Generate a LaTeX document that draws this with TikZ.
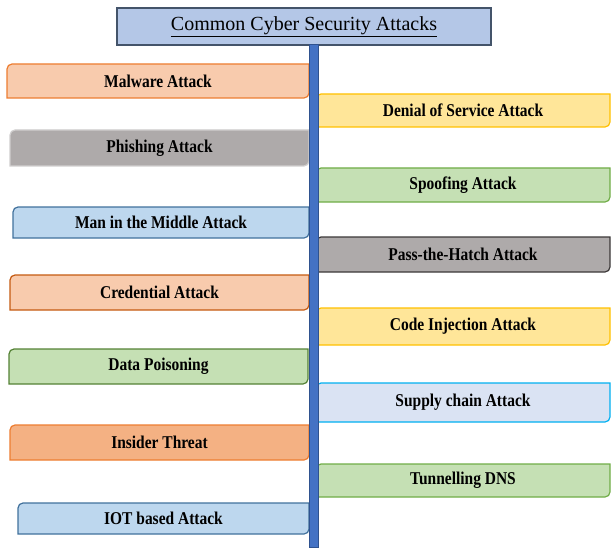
\documentclass[tikz,border=0pt]{standalone}
\usepackage{fontspec}
\setmainfont{Liberation Serif}
\newfontfamily\boxfont[FakeStretch=0.86]{Liberation Serif}
\pgfdeclarelayer{background}
\pgfsetlayers{background,main}
\definecolor{orfill}{HTML}{F8CBAD}
\definecolor{ordraw}{HTML}{ED7D31}
\definecolor{or2fill}{HTML}{F4B183}
\definecolor{brdraw}{HTML}{C55A11}
\definecolor{gyfill}{HTML}{AEAAAA}
\definecolor{gydraw}{HTML}{D0CECE}
\definecolor{gy2draw}{HTML}{3B3838}
\definecolor{blfill}{HTML}{BDD7EE}
\definecolor{bldraw}{HTML}{41719C}
\definecolor{grfill}{HTML}{C5E0B4}
\definecolor{grdraw}{HTML}{548235}
\definecolor{gr2draw}{HTML}{70AD47}
\definecolor{yefill}{HTML}{FFE699}
\definecolor{yedraw}{HTML}{FFC000}
\definecolor{lbfill}{HTML}{DAE3F3}
\definecolor{lbdraw}{HTML}{00B0F0}
\definecolor{tifill}{HTML}{B4C7E7}
\definecolor{tidraw}{HTML}{44546A}
\definecolor{barfill}{HTML}{4472C4}
\definecolor{bardraw}{HTML}{2F528F}
\newcommand\diagbox[3]{%
  \begin{pgfonlayer}{background}
  \filldraw[fill=#2, draw=#3, line width=1.2pt]
    (#1.south west) -- ([yshift=-5pt]#1.north west)
    arc[start angle=180,end angle=90,radius=5pt]
    -- (#1.north east) -- ([yshift=5pt]#1.south east)
    arc[start angle=0,end angle=-90,radius=5pt] -- cycle;
  \end{pgfonlayer}}
\tikzset{
  lbox/.style={inner sep=0pt, outer sep=0pt, align=center,
    font=\boxfont\bfseries\fontsize{18}{20}\selectfont},
}
\begin{document}
\begin{tikzpicture}[x=1pt,y=1pt]
\useasboundingbox (0,0) rectangle (612,547);
% title
\node[inner sep=0pt, outer sep=0pt, fill=tifill, draw=tidraw, line width=1.2pt,
  minimum width=374pt, minimum height=37pt,
  font=\fontsize{20}{22}\selectfont] (title) at (304,520.5)
  {\underline{Common Cyber Security Attacks}};
% left column
\node[lbox, minimum width=302pt, minimum height=34pt] (mal) at (158,466) {Malware Attack};
\diagbox{mal}{orfill}{ordraw}
\node[lbox, minimum width=299pt, minimum height=36pt] (phi) at (159.5,399) {Phishing Attack};
\diagbox{phi}{gyfill}{gydraw}
\node[lbox, minimum width=296pt, minimum height=31pt] (mitm) at (161,324.5) {Man in the Middle Attack};
\diagbox{mitm}{blfill}{bldraw}
\node[lbox, minimum width=299pt, minimum height=35pt] (cred) at (159.5,254.5) {Credential Attack};
\diagbox{cred}{orfill}{brdraw}
\node[lbox, minimum width=299pt, minimum height=35pt] (data) at (158.5,180.5) {Data Poisoning};
\diagbox{data}{grfill}{grdraw}
\node[lbox, minimum width=299pt, minimum height=35pt] (ins) at (159.5,104.5) {Insider Threat};
\diagbox{ins}{or2fill}{ordraw}
\node[lbox, minimum width=291pt, minimum height=31pt] (iot) at (163.5,28.5) {IOT based Attack};
\diagbox{iot}{blfill}{bldraw}
% right column
\node[lbox, minimum width=294pt, minimum height=33pt] (dos) at (463,436.5) {Denial of Service Attack};
\diagbox{dos}{yefill}{yedraw}
\node[lbox, minimum width=294pt, minimum height=34pt] (spo) at (463,362) {Spoofing Attack};
\diagbox{spo}{grfill}{gr2draw}
\node[lbox, minimum width=294pt, minimum height=35pt] (pth) at (463,292.5) {Pass-the-Hatch Attack};
\diagbox{pth}{gyfill}{gy2draw}
\node[lbox, minimum width=294pt, minimum height=37pt] (code) at (463,220.5) {Code Injection Attack};
\diagbox{code}{yefill}{yedraw}
\node[lbox, minimum width=294pt, minimum height=39pt] (sup) at (463,144.5) {Supply chain Attack};
\diagbox{sup}{lbfill}{lbdraw}
\node[lbox, minimum width=294pt, minimum height=33pt] (dns) at (463,66.5) {Tunnelling DNS};
\diagbox{dns}{grfill}{gr2draw}
% central bar
\node[inner sep=0pt, outer sep=0pt, fill=barfill, draw=bardraw, line width=1pt,
  minimum width=9pt, minimum height=502pt] (bar) at (313.5,251) {};
\end{tikzpicture}
\end{document}
